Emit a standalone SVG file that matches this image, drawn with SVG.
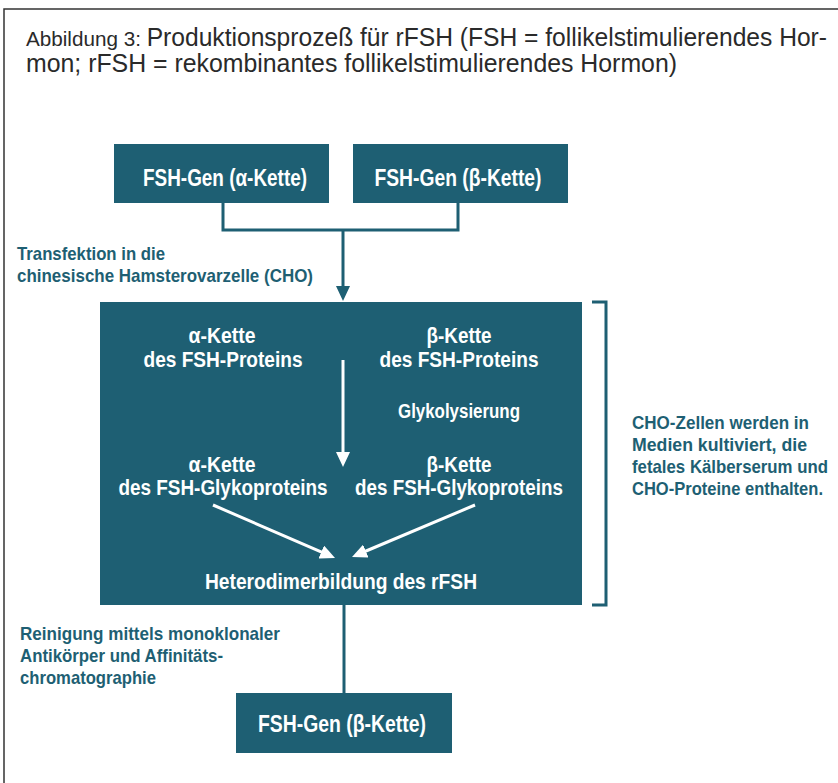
<svg xmlns="http://www.w3.org/2000/svg" width="838" height="783" viewBox="0 0 838 783">
<defs>
<style>
.box{fill:#1e5f73}
.line{fill:none;stroke:#1e5f73;stroke-width:3}
.wline{fill:none;stroke:#ffffff;stroke-width:3}
.bt{font-family:"Liberation Sans Narrow","Liberation Sans",Arial,sans-serif;font-weight:bold;fill:#ffffff;text-anchor:middle}
.lbl{font-family:"Liberation Sans Narrow","Liberation Sans",Arial,sans-serif;font-weight:bold;fill:#1e5f73;font-size:19px}
.title{font-family:"Liberation Sans Narrow","Liberation Sans",Arial,sans-serif;fill:#2a2a2a}
</style>
<marker id="ah" viewBox="0 0 15 14" refX="1" refY="7" markerWidth="15" markerHeight="14" markerUnits="userSpaceOnUse" orient="auto"><path d="M0,0 L15,7 L0,14 z" fill="#1e5f73"/></marker>
<marker id="wh" viewBox="0 0 15 14" refX="1" refY="7" markerWidth="15" markerHeight="14" markerUnits="userSpaceOnUse" orient="auto"><path d="M0,0 L15,7 L0,14 z" fill="#ffffff"/></marker>
</defs>
<rect width="838" height="783" fill="#ffffff"/>
<path d="M4,783 V9 H838" fill="none" stroke="#333333" stroke-width="1.5"/>
<g id="title">
<text class="title" x="26" y="46" textLength="801" lengthAdjust="spacingAndGlyphs"><tspan font-size="21">Abbildung 3: </tspan><tspan font-size="25">Produktionsprozeß für rFSH (FSH = follikelstimulierendes Hor-</tspan></text>
<text class="title" x="26" y="72" font-size="25" textLength="651" lengthAdjust="spacingAndGlyphs">mon; rFSH = rekombinantes follikelstimulierendes Hormon)</text>
</g>
<g id="connectors">
<path class="line" d="M223,203 V230 H458 V203"/>
<path class="line" d="M343,230 V287" marker-end="url(#ah)"/>
<path class="line" d="M344,605 V693"/>
<path class="line" d="M592,302 H606 V605 H592"/>
</g>
<g id="gene-alpha">
<rect class="box" x="114" y="144" width="215" height="59"/>
<text class="bt" x="225" y="186" font-size="24" textLength="164" lengthAdjust="spacingAndGlyphs">FSH-Gen (α-Kette)</text>
</g>
<g id="gene-beta">
<rect class="box" x="353" y="144" width="215" height="59"/>
<text class="bt" x="458" y="186" font-size="24" textLength="167" lengthAdjust="spacingAndGlyphs">FSH-Gen (β-Kette)</text>
</g>
<g id="label-transfektion">
<text class="lbl" x="17" y="260" textLength="148" lengthAdjust="spacingAndGlyphs">Transfektion in die</text>
<text class="lbl" x="17" y="282" textLength="296" lengthAdjust="spacingAndGlyphs">chinesische Hamsterovarzelle (CHO)</text>
</g>
<g id="cho-cell">
<rect class="box" x="100" y="302" width="482" height="303"/>
<text class="bt" x="222" y="343" font-size="22" textLength="67" lengthAdjust="spacingAndGlyphs">α-Kette</text>
<text class="bt" x="223" y="367" font-size="22" textLength="159" lengthAdjust="spacingAndGlyphs">des FSH-Proteins</text>
<text class="bt" x="459" y="343" font-size="22" textLength="65" lengthAdjust="spacingAndGlyphs">β-Kette</text>
<text class="bt" x="459" y="367" font-size="22" textLength="159" lengthAdjust="spacingAndGlyphs">des FSH-Proteins</text>
<text class="bt" x="459" y="418" font-size="20" textLength="122" lengthAdjust="spacingAndGlyphs">Glykolysierung</text>
<text class="bt" x="222" y="472" font-size="22" textLength="67" lengthAdjust="spacingAndGlyphs">α-Kette</text>
<text class="bt" x="223" y="495" font-size="22" textLength="209" lengthAdjust="spacingAndGlyphs">des FSH-Glykoproteins</text>
<text class="bt" x="459" y="472" font-size="22" textLength="65" lengthAdjust="spacingAndGlyphs">β-Kette</text>
<text class="bt" x="459" y="495" font-size="22" textLength="208" lengthAdjust="spacingAndGlyphs">des FSH-Glykoproteins</text>
<text class="bt" x="341" y="589" font-size="22" textLength="272" lengthAdjust="spacingAndGlyphs">Heterodimerbildung des rFSH</text>
<path class="wline" d="M343,360 V453" marker-end="url(#wh)"/>
<path class="wline" d="M213,505 L322.2,552.4" marker-end="url(#wh)"/>
<path class="wline" d="M475,505 L364.9,551.5" marker-end="url(#wh)"/>
</g>
<g id="label-medien">
<text class="lbl" x="632" y="429" textLength="177" lengthAdjust="spacingAndGlyphs">CHO-Zellen werden in</text>
<text class="lbl" x="632" y="451" textLength="175" lengthAdjust="spacingAndGlyphs">Medien kultiviert, die</text>
<text class="lbl" x="632" y="473" textLength="196" lengthAdjust="spacingAndGlyphs">fetales Kälberserum und</text>
<text class="lbl" x="632" y="495" textLength="191" lengthAdjust="spacingAndGlyphs">CHO-Proteine enthalten.</text>
</g>
<g id="label-reinigung">
<text class="lbl" x="20" y="640" textLength="260" lengthAdjust="spacingAndGlyphs">Reinigung mittels monoklonaler</text>
<text class="lbl" x="20" y="662" textLength="203" lengthAdjust="spacingAndGlyphs">Antikörper und Affinitäts-</text>
<text class="lbl" x="20" y="684" textLength="136" lengthAdjust="spacingAndGlyphs">chromatographie</text>
</g>
<g id="product">
<rect class="box" x="236" y="693" width="216" height="60"/>
<text class="bt" x="342" y="732" font-size="24" textLength="168" lengthAdjust="spacingAndGlyphs">FSH-Gen (β-Kette)</text>
</g>
</svg>
